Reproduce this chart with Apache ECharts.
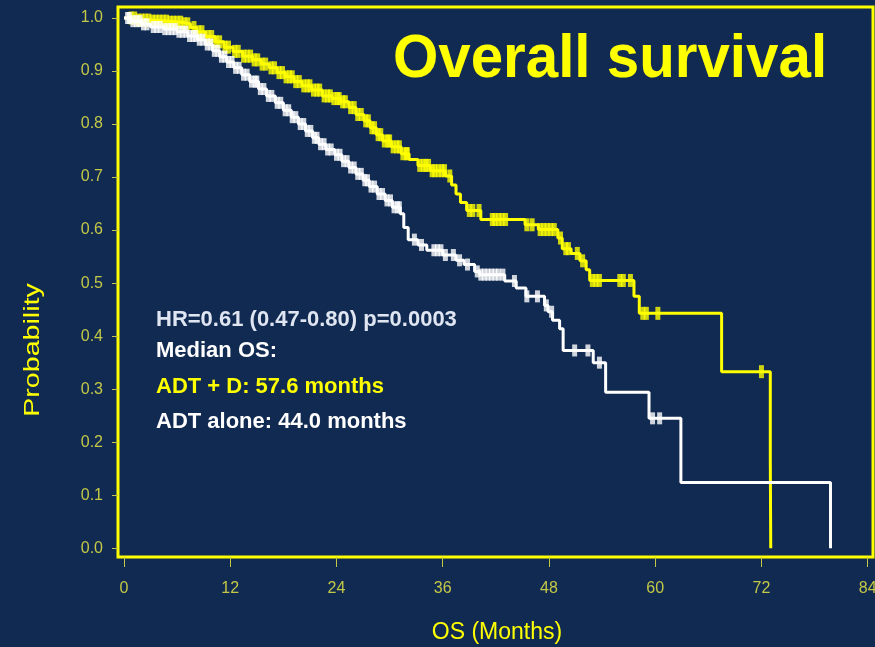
<!DOCTYPE html>
<html>
<head>
<meta charset="utf-8">
<title>Overall survival</title>
<script src="https://cdn.jsdelivr.net/npm/echarts@6/dist/echarts.min.js"></script>
<style>
  html, body { margin: 0; padding: 0; background: #112a52; }
  #chart { width: 875px; height: 647px; }
</style>
</head>
<body>
<div id="chart"></div>
<script>
// Axis ticks
const xTickValues = [0, 12, 24, 36, 48, 60, 72, 84];
const yTickValues = [0.0, 0.1, 0.2, 0.3, 0.4, 0.5, 0.6, 0.7, 0.8, 0.9, 1.0];

// ADT + D arm: event times (months) and survival after each event
const adtDTimes = [0, 1.5, 3.0, 5.0, 6.5, 7.5, 8.2, 9.2, 10.3, 11.3, 12.3, 13.4, 14.5, 15.5, 16.4, 17.3,
  18.2, 19.2, 20.1, 21.2, 22.4, 23.5, 24.5, 25.4, 26.2, 27.1, 27.8, 28.5, 29.2, 30.2, 31.3, 32.2,
  33.2, 34.6, 36.3, 37.0, 37.5, 38.0, 38.7, 40.3, 45.3, 46.8, 49.0, 49.5, 50.5, 51.5, 52.2, 52.6,
  57.6, 58.2, 67.5, 73.0, 73.05];
const adtDSurv = [1.0, 0.996, 0.994, 0.992, 0.989, 0.982, 0.974, 0.965, 0.955, 0.945, 0.937, 0.928, 0.921, 0.913, 0.906, 0.897,
  0.889, 0.880, 0.872, 0.864, 0.853, 0.848, 0.842, 0.831, 0.818, 0.806, 0.793, 0.780, 0.768, 0.757, 0.744, 0.733,
  0.722, 0.712, 0.702, 0.685, 0.668, 0.652, 0.637, 0.620, 0.610, 0.601, 0.585, 0.565, 0.556, 0.542, 0.525, 0.505,
  0.475, 0.443, 0.333, 0.166, 0.0];
// ADT + D arm: censoring times (months)
const adtDCensor = [0.8, 1.2, 1.6, 2.0, 2.4, 2.8, 3.2, 3.6, 4.0, 4.4, 4.8, 5.2, 5.6, 6.0, 6.4, 6.8, 7.2,
  7.9, 8.4, 8.8, 9.5, 9.9, 10.4, 10.8, 11.4, 11.8, 12.5, 12.9, 13.5, 13.9, 14.3, 14.7, 15.1, 15.6, 16.0,
  16.6, 17.0, 17.5, 17.9, 18.3, 18.7, 19.0, 19.4, 19.8, 20.3, 20.7, 21.0, 21.4, 21.8, 22.1, 22.6, 23.0,
  23.3, 23.7, 24.1, 24.3, 24.7, 25.0, 25.6, 26.0, 26.4, 26.8, 27.3, 27.6, 28.0, 28.3, 28.7, 29.0, 29.4,
  29.8, 30.0, 30.4, 30.8, 31.1, 31.5, 31.9, 32.0, 33.4, 33.8, 34.1, 34.4, 34.8, 35.1, 35.5, 35.9, 36.2,
  36.8, 39.0, 39.4, 40.1, 41.6, 41.9, 42.3, 42.7, 43.1, 45.5, 46.1, 47.0, 47.4, 47.8, 48.2, 48.6, 49.3,
  49.9, 50.2, 51.2, 51.8, 52.9, 53.3, 53.7, 56.0, 56.4, 57.2, 58.6, 59.0, 60.3, 72.0];

// ADT alone arm: event times (months) and survival after each event
const adtTimes = [0, 0.8, 2.0, 3.0, 4.5, 6.0, 7.2, 8.3, 9.2, 10.0, 10.8, 11.6, 12.4, 13.3, 14.2, 15.2, 16.1,
  17.1, 18.0, 18.9, 19.7, 20.5, 21.3, 22.0, 22.8, 23.8, 24.6, 25.4, 26.2, 27.0, 27.7, 28.6, 29.5, 30.3,
  31.2, 31.6, 32.1, 33.2, 34.2, 36.0, 37.5, 38.4, 39.6, 40.2, 43.0, 44.3, 45.4, 47.5, 47.9, 48.4, 49.2,
  49.6, 53.0, 54.4, 59.3, 62.9, 79.8];
const adtSurv = [1.0, 0.994, 0.988, 0.983, 0.979, 0.974, 0.966, 0.959, 0.950, 0.938, 0.927, 0.917, 0.906, 0.893, 0.880, 0.866, 0.853,
  0.840, 0.826, 0.813, 0.800, 0.787, 0.774, 0.762, 0.752, 0.742, 0.730, 0.718, 0.706, 0.694, 0.682, 0.668, 0.656, 0.643,
  0.631, 0.605, 0.582, 0.572, 0.562, 0.553, 0.543, 0.535, 0.522, 0.516, 0.504, 0.491, 0.475, 0.458, 0.446, 0.430, 0.414,
  0.373, 0.350, 0.294, 0.245, 0.124, 0.0];
// ADT alone arm: censoring times (months)
const adtCensor = [0.4, 0.6, 1.0, 1.4, 1.8, 2.2, 2.6, 3.3, 3.7, 4.1, 4.6, 5.0, 5.4, 5.8, 6.2, 6.6, 7.0, 7.4,
  7.8, 8.1, 8.5, 8.9, 9.4, 9.8, 10.2, 10.6, 11.0, 11.4, 11.8, 12.2, 12.6, 13.0, 13.5, 13.9, 14.4, 14.8,
  15.0, 15.4, 15.8, 16.3, 16.7, 17.3, 17.7, 18.2, 18.6, 19.0, 19.4, 19.9, 20.3, 20.7, 21.1, 21.5, 21.8,
  22.2, 22.6, 23.0, 23.4, 24.0, 24.4, 24.8, 25.2, 25.6, 26.0, 26.4, 26.8, 27.2, 27.5, 27.9, 28.3, 28.8,
  29.2, 29.7, 30.1, 30.5, 30.9, 31.1, 32.8, 33.6, 35.0, 35.4, 35.8, 36.3, 37.2, 37.9, 38.8, 39.9, 40.3,
  40.7, 41.1, 41.5, 41.9, 42.3, 42.8, 44.1, 45.5, 46.7, 47.7, 48.3, 50.9, 52.4, 53.7, 59.7, 60.5];

// Kaplan-Meier estimate in force at time t (last event at or before t)
function survivalAt(times, surv, t) {
  let s = surv[0];
  for (let i = 0; i < times.length; i++) {
    if (times[i] <= t) s = surv[i]; else break;
  }
  return s;
}
const pairs = (xs, ys) => xs.map((x, i) => [x, ys[i]]);
const censorMarks = (cens, times, surv) => cens.map(t => [t, survivalAt(times, surv, t)]);

const YELLOW = '#ffff00';
const WHITE = '#ffffff';
const TICK = '#c3c846';
const FONT = '"Liberation Sans", Arial, sans-serif';

const chart = echarts.init(document.getElementById('chart'), null, { renderer: 'canvas' });
chart.setOption({
  backgroundColor: '#112a52',
  animation: false,
  grid: {
    left: 118, right: 2, top: 7, bottom: 90,
    containLabel: false, outerBoundsMode: 'none',
    show: true, borderColor: YELLOW, borderWidth: 3, backgroundColor: 'transparent'
  },
  xAxis: {
    type: 'value', min: -0.68, max: 84.6,
    axisLine: { show: false, onZero: false },
    splitLine: { show: false },
    axisTick: { show: true, customValues: xTickValues, length: 10, lineStyle: { color: TICK, width: 1 } },
    axisLabel: { customValues: xTickValues, margin: 24, color: TICK, fontSize: 16, fontFamily: FONT }
  },
  yAxis: {
    type: 'value', min: -0.0165, max: 1.0207,
    axisLine: { show: false, onZero: false },
    splitLine: { show: false },
    axisTick: { show: true, customValues: yTickValues, length: 6, lineStyle: { color: TICK, width: 1 } },
    axisLabel: {
      customValues: yTickValues, margin: 15, color: TICK, fontSize: 16, fontFamily: FONT,
      formatter: v => v.toFixed(1)
    }
  },
  series: [
    {
      name: 'ADT + D', type: 'line', step: 'end', showSymbol: false, symbol: 'none',
      data: pairs(adtDTimes, adtDSurv),
      lineStyle: { color: YELLOW, width: 3 }, z: 2
    },
    {
      name: 'ADT + D censored', type: 'scatter', symbol: 'rect', symbolSize: [5, 13],
      data: censorMarks(adtDCensor, adtDTimes, adtDSurv),
      itemStyle: { color: YELLOW }, z: 2
    },
    {
      name: 'ADT alone', type: 'line', step: 'end', showSymbol: false, symbol: 'none',
      data: pairs(adtTimes, adtSurv),
      lineStyle: { color: WHITE, width: 3 }, z: 3
    },
    {
      name: 'ADT alone censored', type: 'scatter', symbol: 'rect', symbolSize: [5, 12],
      data: censorMarks(adtCensor, adtTimes, adtSurv),
      itemStyle: { color: WHITE }, z: 3
    }
  ],
  graphic: [
    {
      type: 'text', x: 610, y: 60, scaleX: 0.94,
      style: { text: 'Overall survival', fill: YELLOW, font: 'bold 62px ' + FONT, align: 'center', verticalAlign: 'middle' }
    },
    {
      type: 'text', x: 156, y: 320,
      style: { text: 'HR=0.61 (0.47-0.80) p=0.0003', fill: '#dfe6f2', font: 'bold 22px ' + FONT, verticalAlign: 'middle' }
    },
    {
      type: 'text', x: 156, y: 351,
      style: { text: 'Median OS:', fill: WHITE, font: 'bold 22px ' + FONT, verticalAlign: 'middle' }
    },
    {
      type: 'text', x: 156, y: 387,
      style: { text: 'ADT + D: 57.6 months', fill: YELLOW, font: 'bold 22px ' + FONT, verticalAlign: 'middle' }
    },
    {
      type: 'text', x: 156, y: 422,
      style: { text: 'ADT alone: 44.0 months', fill: WHITE, font: 'bold 22px ' + FONT, verticalAlign: 'middle' }
    },
    {
      type: 'text', x: 497, y: 633,
      style: { text: 'OS (Months)', fill: YELLOW, font: '23px ' + FONT, align: 'center', verticalAlign: 'middle' }
    },
    {
      type: 'text', x: 33, y: 350, rotation: Math.PI / 2, scaleX: 1.3,
      style: { text: 'Probability', fill: YELLOW, font: '22px ' + FONT, align: 'center', verticalAlign: 'middle' }
    }
  ]
});
</script>
</body>
</html>
